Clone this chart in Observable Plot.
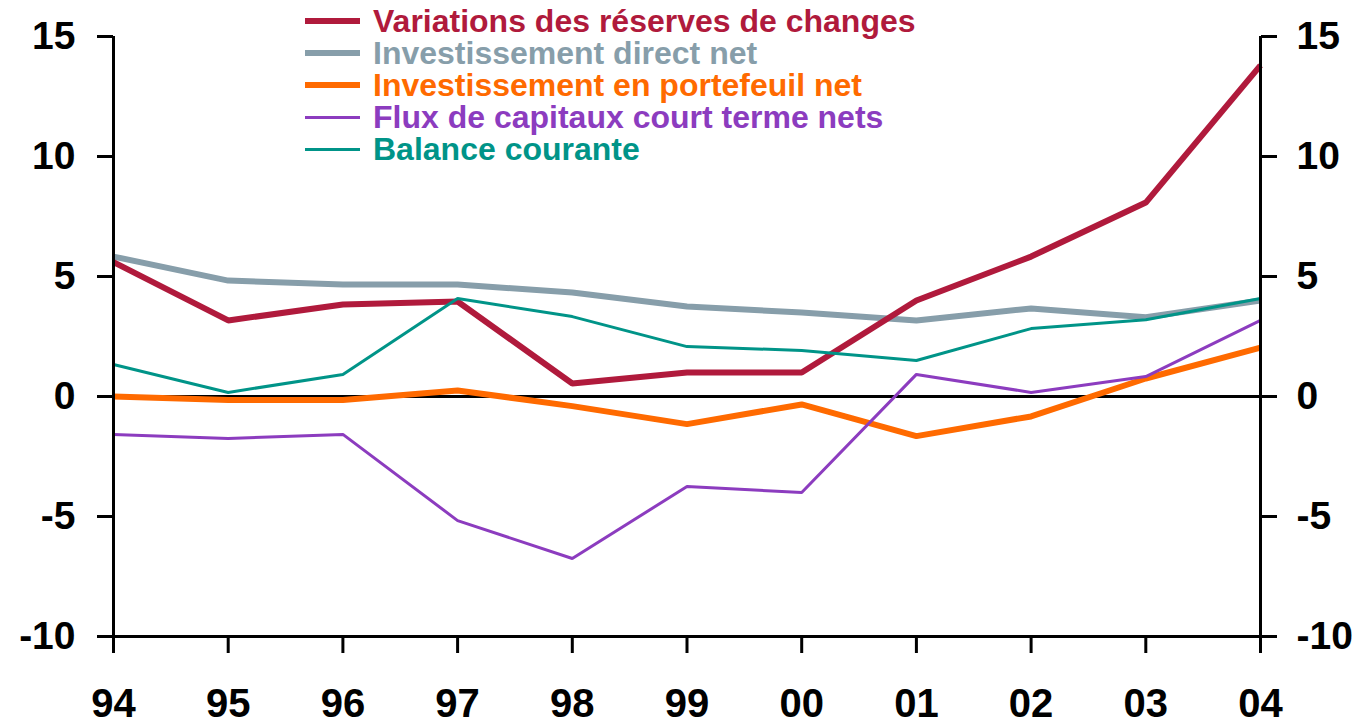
<!DOCTYPE html>
<html>
<head>
<meta charset="utf-8">
<script src="https://cdn.jsdelivr.net/npm/d3@7"></script>
<script src="https://cdn.jsdelivr.net/npm/@observablehq/plot@0.6"></script>
<style>
  html, body { margin: 0; padding: 0; background: #fff; }
  #wrap { position: relative; width: 1363px; height: 723px; font-family: "Liberation Sans", Arial, sans-serif; }
  #legend { position: absolute; left: 305px; top: 5px; font-weight: bold; font-size: 32px; line-height: 32px; }
  .row { display: flex; align-items: center; height: 32px; white-space: nowrap; }
  .sw { width: 55px; margin-right: 13px; }
</style>
</head>
<body>
<div id="wrap"><div id="legend"></div></div>
<script>
const years = ["94","95","96","97","98","99","00","01","02","03","04"];
const reserves = [5.6, 3.17, 3.83, 3.96, 0.54, 1.0, 1.0, 4.0, 5.83, 8.08, 13.8];
const fdi = [5.83, 4.83, 4.67, 4.67, 4.33, 3.75, 3.5, 3.17, 3.67, 3.3, 4.0];
const portfolio = [0, -0.15, -0.15, 0.25, -0.4, -1.15, -0.33, -1.65, -0.83, 0.75, 2.04];
const shortTerm = [-1.58, -1.75, -1.58, -5.17, -6.75, -3.75, -4.0, 0.92, 0.17, 0.83, 3.17];
const currentAccount = [1.33, 0.17, 0.92, 4.08, 3.33, 2.08, 1.92, 1.5, 2.83, 3.2, 4.08];
const yTicks = [-10, -5, 0, 5, 10, 15];

const seriesNames = [
  "Variations des réserves de changes",
  "Investissement direct net",
  "Investissement en portefeuil net",
  "Flux de capitaux court terme nets",
  "Balance courante"
];
const seriesValues = [reserves, fdi, portfolio, shortTerm, currentAccount];
const seriesColors = ["#B01A3C", "#879EAA", "#FF6A00", "#8C3CBF", "#009488"];
const seriesWidths = [6, 6, 6, 3, 3];
const drawOrder = [1, 0, 2, 3, 4];

const table = (vals) => years.map((y, i) => ({year: y, value: vals[i]}));

const font = "'Liberation Sans', Arial, sans-serif";
const fmt = d => String(d);

const marks = [
  Plot.ruleY([0], {stroke: "#000", strokeWidth: 3, insetLeft: -16, insetRight: -16}),
  ...drawOrder.map(k => Plot.lineY(table(seriesValues[k]), {
    x: "year", y: "value", stroke: seriesColors[k], strokeWidth: seriesWidths[k], strokeLinejoin: "miter", strokeLinecap: "butt"
  })),
  Plot.ruleX([years[0]], {stroke: "#000", strokeWidth: 3}),
  Plot.ruleX([years[years.length - 1]], {stroke: "#000", strokeWidth: 3}),
  Plot.ruleY([-10], {stroke: "#000", strokeWidth: 3, insetLeft: -16, insetRight: -16}),
  Plot.axisY(yTicks, {anchor: "left", tickSize: 16, tickPadding: 22, fontSize: 39, fontWeight: "bold", strokeWidth: 3, fill: "#000", label: null, tickFormat: fmt}),
  Plot.axisY(yTicks, {anchor: "right", tickSize: 16, tickPadding: 20, fontSize: 39, fontWeight: "bold", strokeWidth: 3, fill: "#000", label: null, tickFormat: fmt}),
  Plot.axisX(years, {anchor: "bottom", tickSize: 17, tickPadding: 35, fontSize: 40, fontWeight: "bold", strokeWidth: 3, fill: "#000", label: null})
];

const chart = Plot.plot({
  width: 1363,
  height: 723,
  marginLeft: 113,
  marginRight: 103,
  marginTop: 36,
  marginBottom: 87,
  style: {fontFamily: font, background: "#fff", overflow: "visible"},
  x: {type: "point", domain: years, padding: 0, round: false},
  y: {domain: [-10, 15]},
  marks
});
document.getElementById("wrap").prepend(chart);

const legend = document.getElementById("legend");
seriesNames.forEach((name, k) => {
  const row = document.createElement("div");
  row.className = "row";
  const sw = document.createElement("div");
  sw.className = "sw";
  sw.style.height = seriesWidths[k] + "px";
  sw.style.background = seriesColors[k];
  const t = document.createElement("span");
  t.textContent = name;
  t.style.color = seriesColors[k];
  row.appendChild(sw);
  row.appendChild(t);
  legend.appendChild(row);
});
</script>
</body>
</html>
